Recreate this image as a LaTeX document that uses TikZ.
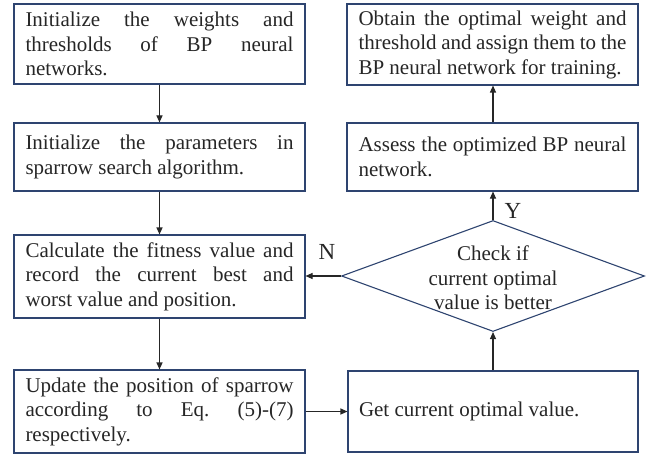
\documentclass[tikz,border=0pt]{standalone}
\usepackage{fontspec}
\setmainfont{Liberation Serif}
\usetikzlibrary{shapes.geometric,arrows.meta}
\definecolor{boxline}{HTML}{2E4470}
\definecolor{txt}{HTML}{262626}
\hyphenpenalty=10000
\exhyphenpenalty=10000
\frenchspacing
\tikzset{
  stepbox/.style={draw=boxline, line width=1.1pt, text width=268pt, align=justify,
    inner sep=0pt, minimum width=291pt, text=txt,
    font=\fontsize{21}{24.5}\selectfont},
  decide/.style={draw=boxline, line width=1.1pt, diamond, minimum width=303pt, minimum height=111pt,
    inner sep=0pt, shape aspect=2.73},
  decidetext/.style={align=center, text=txt, inner sep=0pt, font=\fontsize{21}{24.5}\selectfont},
  flow/.style={draw=black!85, line width=1.1pt, -{Triangle[length=7pt,width=6pt]}},
  lbl/.style={text=txt, font=\fontsize{23}{26}\selectfont, inner sep=0pt}
}
\begin{document}
\begin{tikzpicture}[x=1pt,y=1pt]
\useasboundingbox (0,0) rectangle (652,456);
% left column
\node[stepbox, minimum height=80pt] (a) at (159.5,412) {Initialize the weights and\linebreak thresholds of BP neural\linebreak networks.};
\node[stepbox, minimum height=68pt] (b) at (159.5,299) {Initialize the parameters in\linebreak sparrow search algorithm.};
\node[stepbox, minimum height=83pt] (c) at (159.5,179.5) {Calculate the fitness value and\linebreak record the current best and\linebreak worst value and position.};
\node[stepbox, minimum height=83pt] (d) at (159.5,44.5) {Update the position of sparrow\linebreak according to Eq. (5)-(7)\linebreak respectively.};
% right column
\node[stepbox, minimum height=81pt] (f) at (492.5,411.5) {Obtain the optimal weight and\linebreak threshold and assign them to the\linebreak BP neural network for training.};
\node[stepbox, minimum height=68pt] (g) at (492.5,299) {Assess the optimized BP neural\linebreak network.};
\node[decide] (h) at (493,180) {};
\node[decidetext] (ht) at (493,178) {Check if\\current optimal\\value is better};
\node[stepbox, minimum width=290pt, minimum height=81pt] (e) at (493,44.5) {Get current optimal value.};
% connectors
\draw[flow] (a.south) -- (b.north);
\draw[flow] (b.south) -- (c.north);
\draw[flow] (c.south) -- (d.north);
\draw[flow] (d.east |- e.west) -- (e.west);
\draw[flow] (e.north -| h.south) -- (h.south);
\draw[flow] (h.west) -- (h.west -| c.east);
\draw[flow] (h.north) -- (h.north |- g.south);
\draw[flow] (h.north |- g.north) -- (h.north |- f.south);
\node[lbl] (ny) at (327,204) {N};
\node[lbl] (yy) at (513,245) {Y};
\end{tikzpicture}
\end{document}
